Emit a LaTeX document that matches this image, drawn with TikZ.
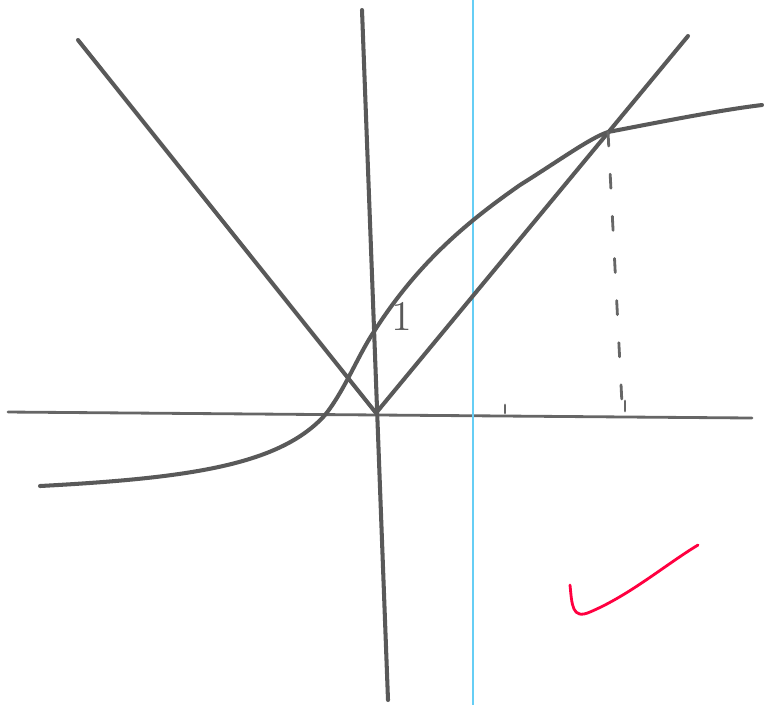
\documentclass[tikz,border=0pt]{standalone}
\usepackage{tikz}
\usetikzlibrary{positioning, calc}

\begin{document}
\begin{tikzpicture}[x=0.01cm, y=-0.01cm,
  pencil/.style={draw=black!65, line width=1.15pt, line cap=round},
  thin pencil/.style={draw=black!60, line width=0.8pt, line cap=round},
  guide/.style={draw=cyan!60, line width=0.5pt},
  check/.style={draw=red!75!magenta, line width=0.8pt, line cap=round},
  lbl/.style={font=\large, text=black!65}
]
  \useasboundingbox (0,0) rectangle (764,705);

  % Axes
  \coordinate (xl) at (8,412);
  \coordinate (xr) at (752,418);
  \coordinate (yt) at (362,10);
  \coordinate (yb) at (388,700);
  \coordinate (o) at (376,413);
  \draw[thin pencil] (xl) -- (xr);
  \draw[pencil] (yt) -- (yb);

  % Guide line
  \coordinate (gt) at (473,0);
  \coordinate (gb) at (473,705);
  \draw[guide] (gt) -- (gb);

  % |x|
  \coordinate (ll) at (78,40);
  \coordinate (rr) at (688,36);
  \draw[pencil] (ll) -- (o) -- (rr);

  % Curve
  \coordinate (c0) at (40,486);
  \coordinate (cm) at (375,330);
  \coordinate (cp) at (608,132);
  \coordinate (c1) at (762,105);
  \draw[pencil] (c0) .. controls (190,478) and (280,465) .. (325,415)
    .. controls (345,390) and (358,355) .. (cm)
    .. controls (420,260) and (470,220) .. (520,185)
    .. controls (560,160) and (590,138) .. (cp)
    .. controls (660,122) and (720,110) .. (c1);

  % Label
  \node[lbl] (one) at (402,316) {1};

  % Ticks
  \coordinate (t1) at (505,413);
  \coordinate (t2) at (625,411);
  \draw[thin pencil] (t1) -- ++(0,-8);
  \draw[thin pencil] (t2) -- ++(0,-10);

  % Dashed drop
  \coordinate (d0) at (622,404);
  \draw[thin pencil, dash pattern=on 4pt off 8pt] (cp) -- (d0);

  % Check mark
  \coordinate (k0) at (570,585);
  \coordinate (k1) at (698,545);
  \draw[check] (k0) .. controls (572,605) and (572,620) .. (590,612)
    .. controls (630,595) and (665,565) .. (k1);
\end{tikzpicture}
\end{document}
